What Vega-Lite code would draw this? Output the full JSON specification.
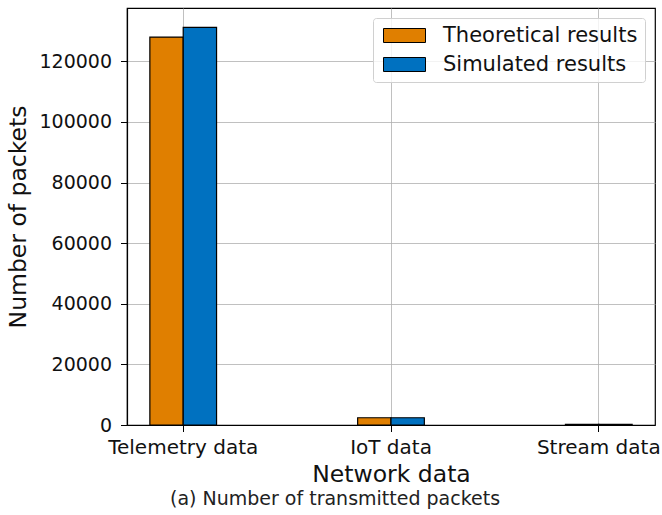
{
  "$schema": "https://vega.github.io/schema/vega-lite/v6.json",
  "width": 528,
  "height": 417,
  "autosize": {"type": "none"},
  "padding": {"left": 127, "top": 8, "right": 7, "bottom": 90},
  "background": "white",
  "title": {
    "text": "(a) Number of transmitted packets",
    "orient": "bottom",
    "anchor": "middle",
    "dx": -56,
    "offset": 4,
    "fontSize": 19,
    "fontWeight": "normal",
    "font": "DejaVu Sans",
    "color": "#222"
  },
  "data": {
    "values": [
      {"network": "Telemetry data", "series": "Theoretical results", "packets": 128000},
      {"network": "Telemetry data", "series": "Simulated results", "packets": 131200},
      {"network": "IoT data", "series": "Theoretical results", "packets": 2400},
      {"network": "IoT data", "series": "Simulated results", "packets": 2400},
      {"network": "Stream data", "series": "Theoretical results", "packets": 250},
      {"network": "Stream data", "series": "Simulated results", "packets": 250}
    ]
  },
  "mark": {"type": "bar", "stroke": "black", "strokeWidth": 1.2},
  "encoding": {
    "x": {
      "field": "network",
      "type": "nominal",
      "sort": ["Telemetry data", "IoT data", "Stream data"],
      "scale": {"paddingInner": 0.679, "paddingOuter": 0.11},
      "axis": {"title": "Network data", "labelAngle": 0, "grid": true}
    },
    "xOffset": {
      "field": "series",
      "type": "nominal",
      "sort": ["Theoretical results", "Simulated results"],
      "scale": {"paddingInner": 0, "paddingOuter": 0}
    },
    "y": {
      "field": "packets",
      "type": "quantitative",
      "scale": {"domain": [0, 137600], "nice": false},
      "axis": {"title": "Number of packets", "values": [0, 20000, 40000, 60000, 80000, 100000, 120000], "format": "d"}
    },
    "color": {
      "field": "series",
      "type": "nominal",
      "sort": ["Theoretical results", "Simulated results"],
      "scale": {"domain": ["Theoretical results", "Simulated results"], "range": ["#e07f00", "#0071c0"]},
      "legend": {
        "title": null,
        "orient": "top-right",
        "offset": 10,
        "symbolType": "M-1,-1H5V1H-1Z",
        "symbolSize": 196,
        "symbolStrokeColor": "black",
        "symbolStrokeWidth": 1,
        "symbolOpacity": 1,
        "labelFontSize": 21,
        "labelFont": "DejaVu Sans",
        "labelColor": "#111",
        "labelLimit": 0,
        "rowPadding": 7,
        "labelOffset": 42,
        "padding": 7,
        "fillColor": "rgba(255,255,255,0.8)",
        "strokeColor": "#d0d0d0",
        "cornerRadius": 3
      }
    }
  },
  "config": {
    "view": {"stroke": "black", "strokeWidth": 1.2},
    "axis": {
      "labelFont": "DejaVu Sans",
      "titleFont": "DejaVu Sans",
      "labelFontSize": 19,
      "titleFontSize": 23.5,
      "titleFontWeight": "normal",
      "labelColor": "#111",
      "titleColor": "#111",
      "domainColor": "black",
      "domainWidth": 1.2,
      "tickColor": "black",
      "tickSize": 6.5,
      "tickWidth": 1,
      "gridColor": "#b0b0b0",
      "gridWidth": 0.8,
      "labelPadding": 7,
      "labelLimit": 0
    },
    "axisX": {"titlePadding": 5, "labelPadding": 6, "labelFontSize": 20},
    "axisY": {"titlePadding": 8, "labelPadding": 9}
  }
}
